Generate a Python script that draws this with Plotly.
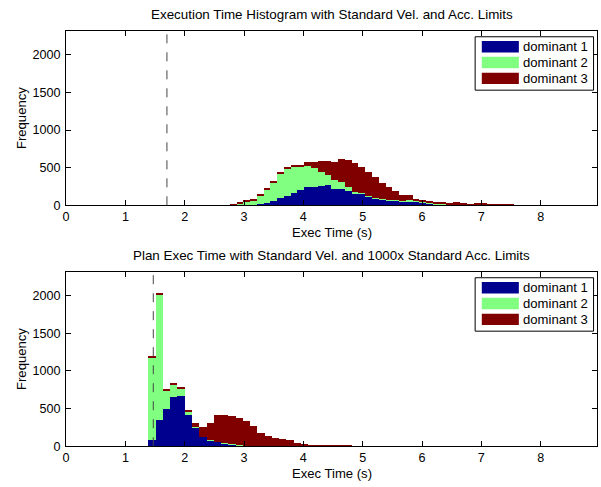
import numpy as np
import plotly.graph_objects as go

# ---------------- data ----------------
series_names = ["dominant 1", "dominant 2", "dominant 3"]
series_colors = ["#00008F", "#80FF80", "#800000"]

# top histogram: 60 bins over [1.39, 8.24]
top_bin_start, top_bin_end, top_n_bins = 1.39, 8.24, 60
top_blue = [0] * 12 + [2, 4, 8, 10, 20, 33, 54, 98, 124, 167, 198, 241, 241, 254, 263,
                       220, 220, 185, 154, 154, 111, 89, 76, 67, 59, 50, 54, 46, 37, 27,
                       15, 10, 5, 5, 3, 2, 3, 2, 1, 1, 0, 0, 0, 0, 0, 0, 0, 0]
top_green = [0] * 12 + [5, 20, 38, 45, 108, 174, 248, 330, 370, 348, 304, 283, 253, 187, 135,
                        117, 87, 56, 22, 13, 9, 13, 13, 9, 8, 9, 13, 8, 4, 3,
                        3, 3, 2, 2, 1, 1, 2, 1, 1, 0, 0, 0, 0, 0, 0, 0, 0, 0]
top_red = [0] * 12 + [8, 22, 21, 30, 22, 21, 22, 13, 17, 26, 35, 52, 82, 148, 191,
                      239, 313, 361, 392, 335, 317, 270, 205, 165, 122, 74, 66, 35, 35, 29,
                      28, 33, 17, 30, 31, 19, 21, 21, 10, 8, 6, 5, 3, 3, 2, 2, 1, 1]
top_threshold = 1.70

# bottom histogram: 56 bins over [1.39, 8.24]
bot_bin_start, bot_bin_end, bot_n_bins = 1.39, 8.24, 56
bot_blue = [79, 343, 488, 660, 673, 418, 243, 123, 79, 57, 35, 22, 13, 4, 2, 1]
bot_green = [1106, 1672, 257, 165, 87, 30, 15, 5, 3, 2, 1, 1, 1, 1]
bot_red = [15, 15, 15, 15, 15, 36, 55, 127, 230, 359, 382, 377, 360, 325, 262, 174,
           140, 112, 92, 79, 48, 35, 22, 13, 6, 4, 3, 3, 2, 2, 2, 1, 1, 1, 1, 1, 1, 1, 1, 1]
bot_threshold = 1.47

x_ticks = [0, 1, 2, 3, 4, 5, 6, 7, 8]
y_ticks = [0, 500, 1000, 1500, 2000]
x_max = 8.95
y_max = 2315

top_title = "Execution Time Histogram with Standard Vel. and Acc. Limits"
bot_title = "Plan Exec Time with Standard Vel. and 1000x Standard Acc. Limits"
x_label = "Exec Time (s)"
y_label = "Frequency"


def pad(lst, n):
    return list(lst) + [0] * (n - len(lst))


# ---------------- figure ----------------
W, H = 601, 487
FONT = "Liberation Sans, Arial, Helvetica, sans-serif"


def fx(x):
    return x / W


def fy(y):
    return 1 - y / H


fig = go.Figure()

panels = [
    (top_bin_start, top_bin_end, top_n_bins, [top_blue, top_green, top_red], "x", "y"),
    (bot_bin_start, bot_bin_end, bot_n_bins, [bot_blue, bot_green, bot_red], "x2", "y2"),
]
for start, end, n, data, xa, ya in panels:
    edges = np.linspace(start, end, n + 1)
    centers = (edges[:-1] + edges[1:]) / 2
    widths = np.diff(edges)
    for name, color, vals in zip(series_names, series_colors, data):
        fig.add_trace(go.Bar(
            x=centers, y=pad(vals, n), width=widths, name=name,
            marker=dict(color=color, line=dict(width=0)),
            xaxis=xa, yaxis=ya, showlegend=False,
        ))

# pixel layout of the two axes boxes
ax_left, ax_right = 62.5, 597
top_box = (31.5, 208.3)
bot_box = (276.0, 452.7)

common_x = dict(range=[0, x_max], tickvals=x_ticks, ticks="inside", ticklen=5,
                tickcolor="black", showline=True, linecolor="black", linewidth=1,
                mirror="ticks", showgrid=False, zeroline=False,
                tickfont=dict(size=12.6, family=FONT, color="black"),
                domain=[fx(ax_left), fx(ax_right)])
common_y = dict(range=[0, y_max], tickvals=y_ticks, ticks="inside", ticklen=5,
                tickcolor="black", showline=True, linecolor="black", linewidth=1,
                mirror="ticks", showgrid=False, zeroline=False, ticklabelstandoff=2,
                tickfont=dict(size=12.6, family=FONT, color="black"))

fig.update_layout(
    width=W, height=H,
    margin=dict(l=0, r=0, t=0, b=0),
    paper_bgcolor="white", plot_bgcolor="white",
    barmode="stack", bargap=0,
    font=dict(family=FONT, size=13, color="black"),
    xaxis=dict(common_x, anchor="y"),
    yaxis=dict(common_y, anchor="x", domain=[fy(top_box[1]), fy(top_box[0])]),
    xaxis2=dict(common_x, anchor="y2"),
    yaxis2=dict(common_y, anchor="x2", domain=[fy(bot_box[1]), fy(bot_box[0])]),
    showlegend=False,
)

shapes = []
annotations = []
for (box, thr, xr, yr, title) in [
    (top_box, top_threshold, "x", "y", top_title),
    (bot_box, bot_threshold, "x2", "y2", bot_title),
]:
    # threshold dashed line
    shapes.append(dict(type="line", xref=xr, yref=f"{yr} domain", x0=thr, x1=thr,
                       y0=0, y1=1, line=dict(color="#454545", width=1, dash="dash")))
    dy = box[0] - top_box[0]
    # legend box
    shapes.append(dict(type="rect", xref="paper", yref="paper",
                       x0=fx(474.3), x1=fx(593.5), y0=fy(91.5 + dy), y1=fy(37.3 + dy),
                       line=dict(color="black", width=1), fillcolor="white", layer="above"))
    for i, (name, color) in enumerate(zip(series_names, series_colors)):
        cy = 47.5 + dy + i * 16.0
        shapes.append(dict(type="rect", xref="paper", yref="paper",
                           x0=fx(481), x1=fx(518.3), y0=fy(cy + 5.8), y1=fy(cy - 5.8),
                           line=dict(width=0), fillcolor=color, layer="above"))
        annotations.append(dict(text=name, xref="paper", yref="paper", x=fx(520.5), y=fy(cy),
                                xanchor="left", yanchor="middle", showarrow=False,
                                font=dict(size=13.1, family=FONT, color="black")))
    # title
    annotations.append(dict(text=title, xref="paper", yref="paper",
                            x=fx((ax_left + ax_right) / 2), y=fy(box[0] - 16.5),
                            xanchor="center", yanchor="middle", showarrow=False,
                            font=dict(size=13.4, family=FONT, color="black")))
    # x label
    annotations.append(dict(text=x_label, xref="paper", yref="paper",
                            x=fx((ax_left + ax_right) / 2), y=fy(box[1] + 27.5),
                            xanchor="center", yanchor="middle", showarrow=False,
                            font=dict(size=13.1, family=FONT, color="black")))
    # y label
    annotations.append(dict(text=y_label, xref="paper", yref="paper",
                            x=fx(17), y=fy((box[0] + box[1]) / 2),
                            xanchor="center", yanchor="middle", showarrow=False, textangle=-90,
                            font=dict(size=13.1, family=FONT, color="black")))

fig.update_layout(shapes=shapes, annotations=annotations)
fig.write_html("out.html", config={"displayModeBar": False})
